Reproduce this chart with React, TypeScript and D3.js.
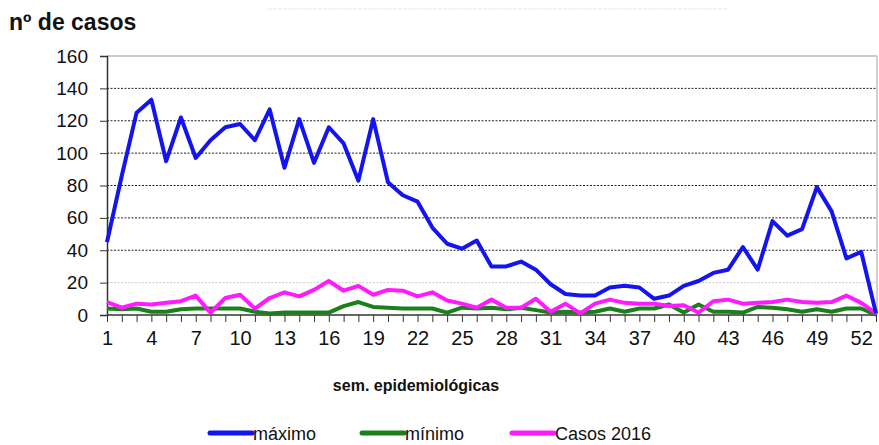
import { useEffect, useRef } from "react";
import * as d3 from "d3";

const weeks = d3.range(1, 54);
const tickWeeks = [1, 4, 7, 10, 13, 16, 19, 22, 25, 28, 31, 34, 37, 40, 43, 46, 49, 52];
const yTicks = [0, 20, 40, 60, 80, 100, 120, 140, 160];

const maximo = [
  45, 86, 125, 133, 95, 122, 97, 108, 116, 118, 108, 127, 91, 121, 94, 116, 106, 83,
  121, 82, 74, 70, 54, 44, 41, 46, 30, 30, 33, 28, 19, 13, 12, 12, 17, 18, 17, 10,
  12, 18, 21, 26, 28, 42, 28, 58, 49, 53, 79, 64, 35, 39, 1,
];
const minimo = [
  4, 3.5, 4, 2, 2, 3.5, 4, 4, 4, 4, 2, 1, 1.5, 1.5, 1.5, 1.5, 5.5, 8,
  5, 4.5, 4, 4, 4, 1.5, 4.5, 4, 4.5, 3.5, 4.5, 3, 1.5, 2, 1.5, 2, 4, 2, 4, 4,
  6.5, 1.5, 6.5, 2, 2, 1.5, 5, 4.5, 3.5, 2, 3.5, 2, 4, 4, 0,
];
const casos2016 = [
  8, 4.5, 7, 6.5, 7.5, 8.5, 12, 1.5, 10.5, 12.5, 4, 10.5, 14, 11.5, 15.5, 21, 15, 18,
  12.5, 15.5, 15, 11.5, 14, 9, 7, 4.5, 9.5, 4.5, 4.5, 10, 2, 7, 1, 7, 9.5, 7.5, 7, 7,
  5.5, 6, 1.5, 8.5, 9.5, 7, 7.5, 8, 9.5, 8, 7.5, 8, 12, 7.5, 1,
];

const series = [
  { name: "mínimo", values: minimo, color: "#1a801a" },
  { name: "Casos 2016", values: casos2016, color: "#ff1aff" },
  { name: "máximo", values: maximo, color: "#1414f0" },
];
const legendOrder = ["máximo", "mínimo", "Casos 2016"];

export default function App() {
  const svgRef = useRef<SVGSVGElement>(null);
  const W = 879, H = 445;
  const m = { top: 56, right: 2, bottom: 130, left: 107 };
  const font = "'Liberation Sans', Arial, sans-serif";

  useEffect(() => {
    if (!svgRef.current) return;
    const svg = d3.select(svgRef.current);
    svg.selectAll("*").remove();

    const x = d3.scalePoint<number>().domain(weeks).range([m.left, W - m.right - 1]);
    const y = d3.scaleLinear().domain([0, 160]).range([H - m.bottom, m.top]);
    const x0 = m.left, x1 = W - m.right;

    /* faint top strip */
    svg.append("line").attr("x1", 268).attr("x2", 727).attr("y1", 9).attr("y2", 9)
      .attr("stroke", "#f0f0f0").attr("stroke-width", 1.5).attr("stroke-dasharray", "4 1");

    /* title */
    svg.append("text").attr("x", 9).attr("y", 30)
      .attr("font-family", font).attr("font-weight", "bold").attr("font-size", 23)
      .attr("fill", "#111").text("nº de casos");

    /* grid */
    const grid = svg.append("g");
    yTicks.filter(t => t > 0).forEach(t => {
      const top = t === 160, light = t === 20;
      grid.append("line")
        .attr("x1", x0).attr("x2", x1).attr("y1", y(t)).attr("y2", y(t))
        .attr("stroke", top ? "#b8b8b8" : light ? "#c8c8c8" : "#222")
        .attr("stroke-width", top ? 1.5 : 1)
        .attr("stroke-dasharray", top ? null : "2 1.5");
    });
    svg.append("line").attr("x1", x1).attr("x2", x1).attr("y1", y(160)).attr("y2", y(0))
      .attr("stroke", "#c0c0c0").attr("stroke-width", 1.5);

    /* y axis */
    const yAxis = svg.append("g").attr("transform", `translate(${x0},0)`)
      .call(d3.axisLeft(y).tickValues(yTicks).tickSize(7).tickPadding(12));
    yAxis.select(".domain").attr("stroke", "#333").attr("stroke-width", 1.5);
    yAxis.selectAll("line").attr("stroke", "#333");
    yAxis.selectAll("text").attr("font-family", font).attr("font-size", 19).attr("fill", "#111");

    /* x axis */
    const xAxis = svg.append("g").attr("transform", `translate(0,${y(0)})`)
      .call(d3.axisBottom(x).tickSize(7).tickPadding(9)
        .tickFormat(d => (tickWeeks.includes(d as number) ? String(d) : "")));
    xAxis.select(".domain").attr("stroke", "#333").attr("stroke-width", 1.5)
      .attr("d", `M${x0},0H${x1}`);
    xAxis.selectAll("line").attr("stroke", "#333");
    xAxis.selectAll("text").attr("font-family", font).attr("font-size", 20).attr("fill", "#111");

    /* lines */
    const line = d3.line<number>().x((_, i) => x(weeks[i]) as number).y(d => y(d));
    series.forEach(s => {
      svg.append("path").attr("d", line(s.values) ?? "")
        .attr("fill", "none").attr("stroke", s.color).attr("stroke-width", 4)
        .attr("stroke-linejoin", "round");
    });

    /* x label */
    svg.append("text").attr("x", 416).attr("y", 391).attr("text-anchor", "middle")
      .attr("font-family", font).attr("font-weight", "bold").attr("font-size", 16)
      .attr("fill", "#111").text("sem. epidemiológicas");

    /* legend */
    const legX = [210, 362, 512];
    legendOrder.forEach((name, i) => {
      const s = series.find(d => d.name === name)!;
      const g = svg.append("g").attr("transform", `translate(${legX[i]},433)`);
      g.append("line").attr("x1", 0).attr("x2", 42).attr("y1", 0).attr("y2", 0)
        .attr("stroke", s.color).attr("stroke-width", 5).attr("stroke-linecap", "round");
      g.append("text").attr("x", 43).attr("y", 6.5)
        .attr("font-family", font).attr("font-size", 18).attr("fill", "#111").text(name);
    });
  }, []);

  return (
    <svg
      ref={svgRef}
      width={W}
      height={H}
      style={{ position: "absolute", left: 0, top: 0, background: "#fff" }}
    />
  );
}
